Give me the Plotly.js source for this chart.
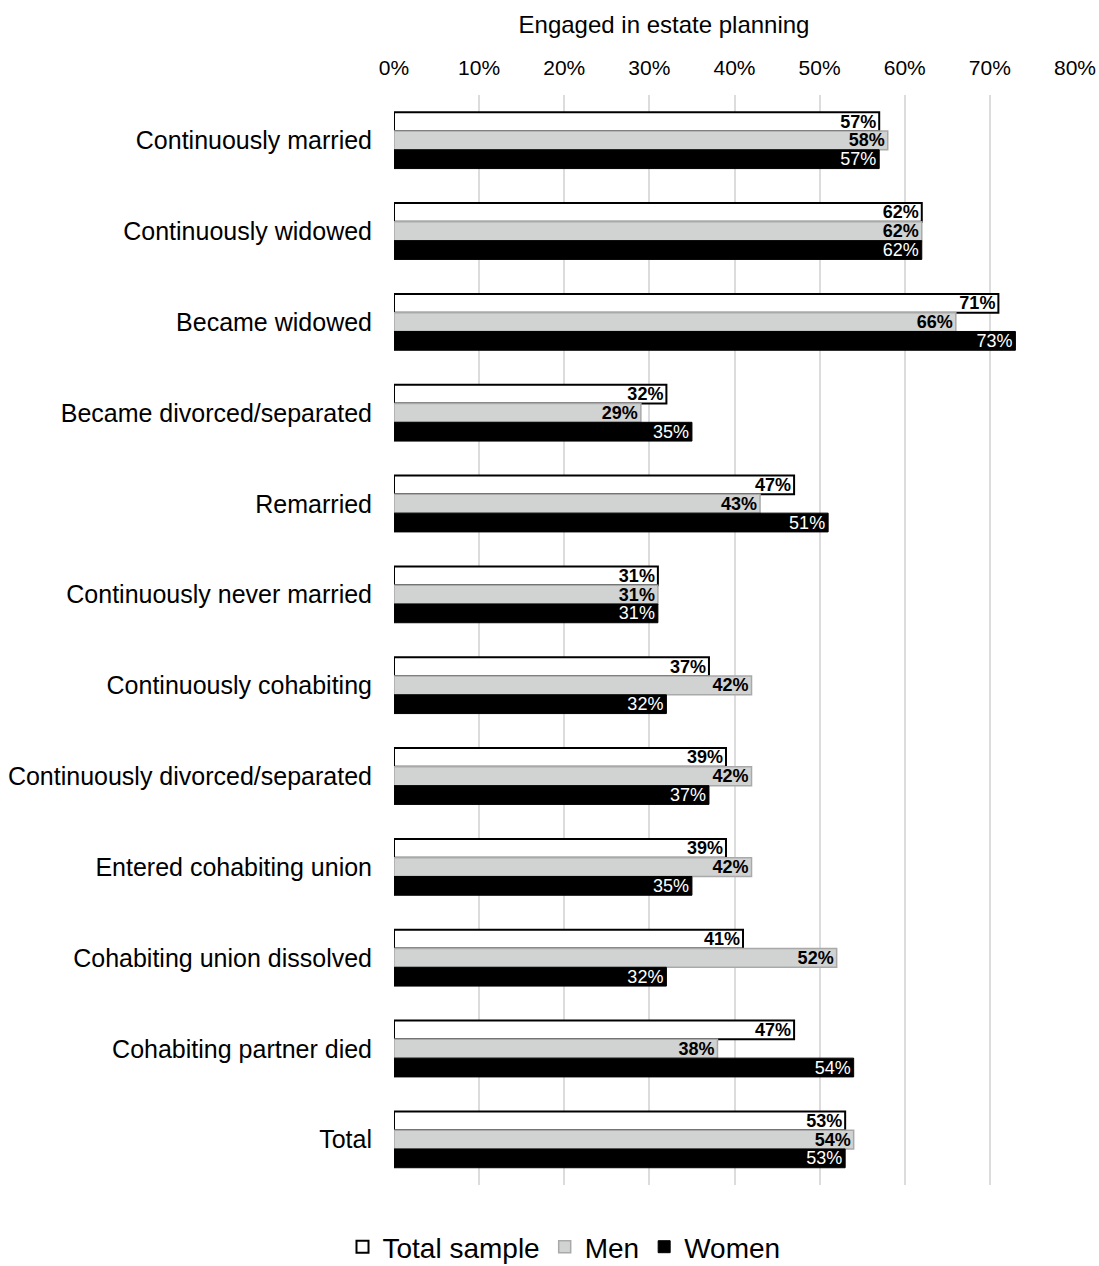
<!DOCTYPE html>
<html>
<head>
<meta charset="utf-8">
<script src="https://cdn.plot.ly/plotly-3.0.1.min.js"></script>
<style>
  html, body { margin: 0; padding: 0; background: #fff; }
  #chart { width: 1099px; height: 1266px; }
</style>
</head>
<body>
<div id="chart"></div>
<script>
// Marital-status transition groups (top to bottom)
const categories = [
  "Continuously married",
  "Continuously widowed",
  "Became widowed",
  "Became divorced/separated",
  "Remarried",
  "Continuously never married",
  "Continuously cohabiting",
  "Continuously divorced/separated",
  "Entered cohabiting union",
  "Cohabiting union dissolved",
  "Cohabiting partner died",
  "Total"
];

// Share engaged in estate planning, percent
const totalSample = [57, 62, 71, 32, 47, 31, 37, 39, 39, 41, 47, 53];
const men         = [58, 62, 66, 29, 43, 31, 42, 42, 42, 52, 38, 54];
const women       = [57, 62, 73, 35, 51, 31, 32, 37, 35, 32, 54, 53];

const tickValues = [0, 10, 20, 30, 40, 50, 60, 70, 80];
const tickLabels = ["0%", "10%", "20%", "30%", "40%", "50%", "60%", "70%", "80%"];

const FONT = "Liberation Sans, Arial, Helvetica, sans-serif";

function barTrace(name, values, fill, lineColor, lineWidth, textColor, bold) {
  return {
    type: "bar",
    orientation: "h",
    name: name,
    y: categories,
    x: values,
    marker: { color: fill, line: { color: lineColor, width: lineWidth } },
    texttemplate: bold ? "<b>%{x}%</b>" : "%{x}%",
    textposition: "inside",
    insidetextanchor: "end",
    textangle: 0,
    constraintext: "none",
    textfont: { family: FONT, size: 18, color: textColor },
    hoverinfo: "x+name"
  };
}

const data = [
  barTrace("Total sample", totalSample, "#ffffff", "#000000", 2, "#000000", true),
  barTrace("Men", men, "#d1d2d2", "#a9a9a9", 1.5, "#000000", true),
  barTrace("Women", women, "#000000", "#000000", 1, "#ffffff", false)
];

const layout = {
  width: 1099,
  height: 1266,
  margin: { l: 394, r: 24, t: 95, b: 81, autoexpand: false },
  paper_bgcolor: "#ffffff",
  plot_bgcolor: "#ffffff",
  font: { family: FONT, color: "#000000" },
  barmode: "group",
  bargap: 0.38,
  bargroupgap: 0,
  title: {
    text: "Engaged in estate planning",
    font: { family: FONT, size: 24, color: "#000000" },
    x: 664 / 1099,
    xanchor: "center",
    xref: "container",
    yref: "container",
    y: 1 - 25 / 1266,
    yanchor: "middle"
  },
  xaxis: {
    side: "top",
    range: [0, 80],
    tickvals: tickValues,
    ticktext: tickLabels,
    tickfont: { family: FONT, size: 21, color: "#000000" },
    showgrid: true,
    gridcolor: "#dcdcdc",
    gridwidth: 2,
    zeroline: false,
    showline: false,
    ticks: "",
    ticklabelstandoff: 15,
    fixedrange: true
  },
  yaxis: {
    autorange: "reversed",
    type: "category",
    tickfont: { family: FONT, size: 25, color: "#000000" },
    ticks: "",
    ticklabelstandoff: 21,
    showgrid: false,
    showline: false,
    zeroline: false,
    fixedrange: true
  },
  showlegend: true,
  legend: {
    orientation: "h",
    xref: "container",
    yref: "container",
    x: 564 / 1099,
    xanchor: "center",
    y: 1 - 1247 / 1266,
    yanchor: "middle",
    font: { family: FONT, size: 28, color: "#000000" },
    itemwidth: 30,
    tracegroupgap: 0,
    traceorder: "normal"
  }
};

Plotly.newPlot("chart", data, layout, { displayModeBar: false, staticPlot: true });
</script>
</body>
</html>
